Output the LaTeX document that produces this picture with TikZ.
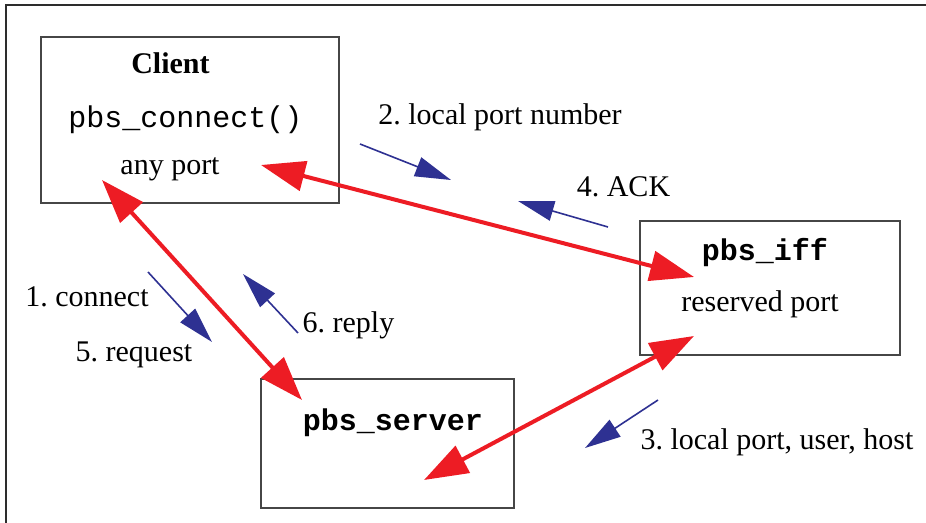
\documentclass[tikz,border=0pt]{standalone}
\usepackage{fontspec}
\setmainfont{Liberation Serif}
\setmonofont{Liberation Mono}
\usetikzlibrary{arrows.meta}
\definecolor{pbsred}{RGB}{237,28,36}
\definecolor{pbsblue}{RGB}{46,49,146}
\definecolor{boxgray}{RGB}{70,70,70}
\definecolor{framegray}{RGB}{45,45,45}
\frenchspacing

\begin{document}
\begin{tikzpicture}
[x=0.5pt,y=-0.5pt,
 box/.style={draw=boxgray,line width=0.7pt,inner sep=0pt},
 lbl/.style={font=\fontsize{15}{18}\selectfont,inner sep=0pt,anchor=base},
 code/.style={font=\fontsize{15}{18}\selectfont\ttfamily,inner sep=0pt,anchor=base},
 bcode/.style={font=\fontsize{15}{18}\selectfont\ttfamily\bfseries,inner sep=0pt,anchor=base},
 link/.style={draw=pbsred,line width=2pt,arrows={Triangle[length=22pt,width=15pt]-Triangle[length=22pt,width=15pt]}},
 msg/.style={draw=pbsblue,line width=0.8pt,arrows={-Triangle[length=18pt,width=10pt]}}]
\useasboundingbox (0,0) rectangle (926,523);
\draw[framegray,line width=1.2pt] (6,523) -- (6,5) -- (926,5);
% boxes
\node[box,minimum width=149pt,minimum height=83pt] (client) at (190,120) {};
\node[box,minimum width=130pt,minimum height=67pt] (iff) at (770,288) {};
\node[box,minimum width=126.5pt,minimum height=64.5pt] (server) at (387.5,443.5) {};
% box texts
\node[lbl,font=\fontsize{15}{18}\selectfont\bfseries] (clientname) at (170.5,74) {Client};
\node[code] (connect) at (185.5,128) {pbs\_connect()};
\node[lbl] (anyport) at (170,175) {any port};
\node[bcode] (iffname) at (765,261) {pbs\_iff};
\node[lbl] (resport) at (760,312) {reserved port};
\node[bcode] (servername) at (393,430) {pbs\_server};
% red links
\coordinate (c1) at (261,165);
\coordinate (c2) at (102,180);
\coordinate (f1) at (694,277);
\coordinate (f2) at (694,336);
\coordinate (s1) at (302,400);
\coordinate (s2) at (424,480);
\draw[link] (c1) -- (f1);
\draw[link] (c2) -- (s1);
\draw[link] (s2) -- (f2);
% messages
\node[lbl] (m2) at (500,125) {2. local port number};
\node[lbl] (m4) at (623.5,197) {4. ACK};
\node[lbl] (m1) at (87,307) {1. connect};
\node[lbl] (m5) at (134,362) {5. request};
\node[lbl] (m6) at (348.5,333) {6. reply};
\node[lbl] (m3) at (777,450) {3. local port, user, host};
\coordinate (a2) at (360,144); \coordinate (b2) at (451,180);
\coordinate (a4) at (608,227); \coordinate (b4) at (518,201);
\coordinate (a1) at (148,272); \coordinate (b1) at (212,342);
\coordinate (a6) at (298,333); \coordinate (b6) at (243,274);
\coordinate (a3) at (658,400); \coordinate (b3) at (585,448);
\draw[msg] (a2) -- (b2);
\draw[msg] (a4) -- (b4);
\draw[msg] (a1) -- (b1);
\draw[msg] (a6) -- (b6);
\draw[msg] (a3) -- (b3);
\end{tikzpicture}
\end{document}
